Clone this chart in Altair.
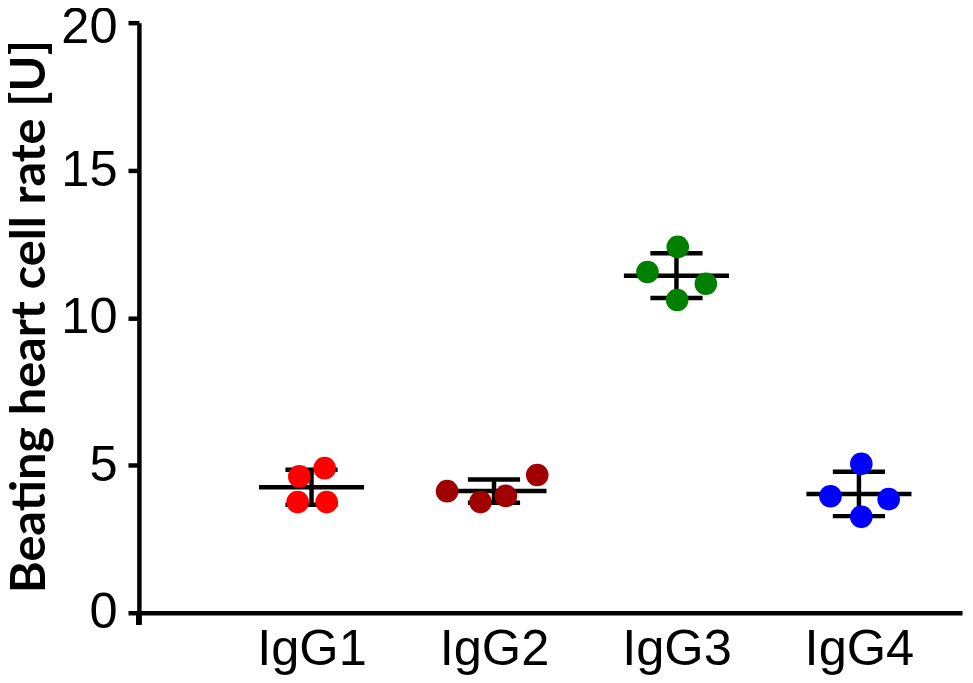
import altair as alt
import pandas as pd

groups = ["IgG1", "IgG2", "IgG3", "IgG4"]
colors = ["#FF0000", "#A00000", "#008000", "#0000FF"]
positions = [1, 2, 3, 4]

igg1 = [4.62, 4.90, 3.75, 3.75]
igg2 = [4.12, 3.75, 3.96, 4.67]
igg3 = [12.40, 11.55, 11.15, 10.60]
igg4 = [5.05, 3.95, 3.85, 3.25]

jit1 = [-0.067, 0.072, -0.076, 0.083]
jit2 = [-0.257, -0.074, 0.065, 0.237]
jit3 = [0.007, -0.159, 0.161, 0.004]
jit4 = [0.013, -0.156, 0.163, 0.013]

y_ticks = [0, 5, 10, 15, 20]
x_domain = [0.054, 4.565]
mean_half = 0.288
cap_half = 0.143

rows = []
for g, p, vals, jit in zip(groups, positions, [igg1, igg2, igg3, igg4], [jit1, jit2, jit3, jit4]):
    for v, j in zip(vals, jit):
        rows.append({"group": g, "pos": p, "x": p + j, "value": v})
df = pd.DataFrame(rows)

label_expr = "['','IgG1','IgG2','IgG3','IgG4'][datum.value]"
xscale = alt.Scale(domain=x_domain, nice=False, zero=False)
yscale = alt.Scale(domain=[0, 20], nice=False)
ytitle = "Beating heart cell rate [U]"

x_axis = alt.Axis(values=positions, labelExpr=label_expr, ticks=False, grid=False, title=None)
y_axis = alt.Axis(
    values=y_ticks,
    grid=False,
    title=ytitle,
    labelOffset=alt.condition("datum.value == 20", alt.value(5), alt.value(0)),
)

base = alt.Chart(df)

stats = base.transform_aggregate(
    mean="mean(value)", sd="stdev(value)", groupby=["group", "pos"]
).transform_calculate(
    lo="datum.mean - datum.sd",
    hi="datum.mean + datum.sd",
    xl=f"datum.pos - {mean_half}",
    xr=f"datum.pos + {mean_half}",
    cl=f"datum.pos - {cap_half}",
    cr=f"datum.pos + {cap_half}",
)

lw = 4.5
mean_line = stats.mark_rule(color="black", strokeWidth=lw).encode(
    x=alt.X("xl:Q", scale=xscale, axis=x_axis),
    x2="xr:Q",
    y=alt.Y("mean:Q", scale=yscale, axis=y_axis),
)
vert = stats.mark_rule(color="black", strokeWidth=lw).encode(
    x=alt.X("pos:Q", scale=xscale, axis=x_axis),
    y=alt.Y("lo:Q", scale=yscale, axis=y_axis),
    y2="hi:Q",
)
cap_top = stats.mark_rule(color="black", strokeWidth=lw).encode(
    x=alt.X("cl:Q", scale=xscale, axis=x_axis),
    x2="cr:Q",
    y=alt.Y("hi:Q", scale=yscale, axis=y_axis),
)
cap_bot = stats.mark_rule(color="black", strokeWidth=lw).encode(
    x=alt.X("cl:Q", scale=xscale, axis=x_axis),
    x2="cr:Q",
    y=alt.Y("lo:Q", scale=yscale, axis=y_axis),
)
points = base.mark_circle(size=520, opacity=1).encode(
    x=alt.X("x:Q", scale=xscale, axis=x_axis),
    y=alt.Y("value:Q", scale=yscale, axis=y_axis),
    color=alt.Color("group:N", scale=alt.Scale(domain=groups, range=colors), legend=None),
)
corner = alt.Chart(df).mark_rule(color="black", strokeWidth=lw).encode(
    x=alt.datum(x_domain[0]),
    y=alt.datum(0),
    y2=alt.datum(-0.4),
)

chart = alt.layer(corner, mean_line, vert, cap_top, cap_bot, points).properties(
    width=830,
    height=595,
    autosize=alt.AutoSizeParams(type="none"),
    padding={"left": 132, "top": 12, "right": 3, "bottom": 60},
).configure_view(stroke=None).configure_axis(
    domainColor="black",
    domainWidth=lw,
    tickColor="black",
    tickWidth=lw,
    labelColor="black",
    labelFont="Liberation Sans",
    labelFontSize=51,
).configure_axisY(
    tickSize=11,
    labelPadding=11,
    titleFont="Lato",
    titleFontWeight="bold",
    titleFontSize=49,
    titleColor="black",
    titleX=-95,
    titleY=296,
    titleBaseline="alphabetic",
).configure_axisX(
    labelPadding=12,
)

chart.save("out.html", embed_options={"renderer": "svg", "actions": False})
